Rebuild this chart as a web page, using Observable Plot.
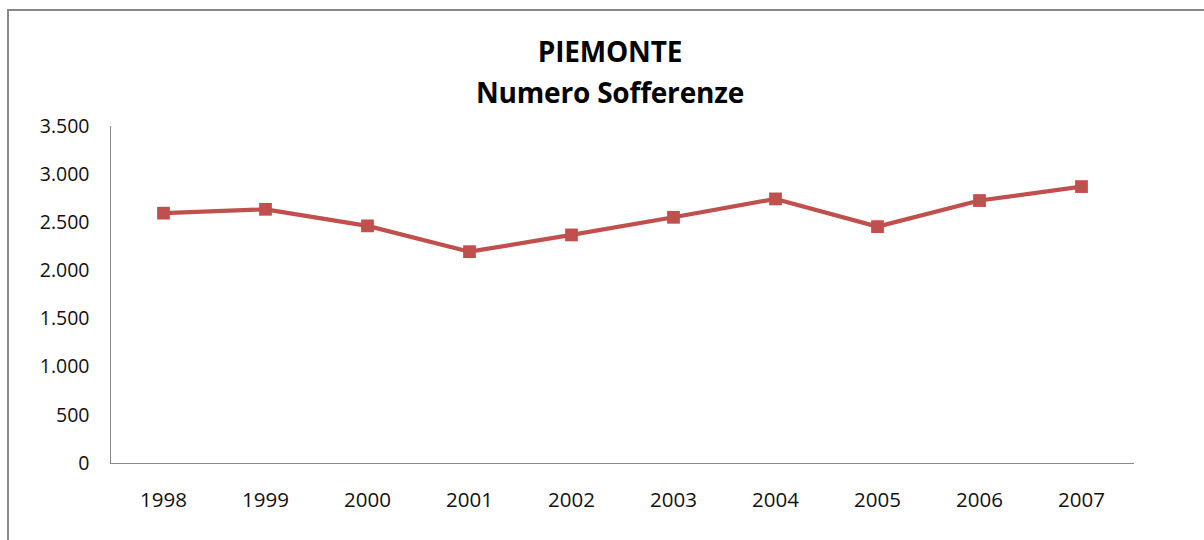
<!DOCTYPE html>
<html><head><meta charset="utf-8">
<script src="https://cdn.jsdelivr.net/npm/d3@7"></script>
<script src="https://cdn.jsdelivr.net/npm/@observablehq/plot@0.6"></script>
<style>
body{margin:0;background:#fff;overflow:hidden;width:1204px;height:540px;position:relative;font-family:"Open Sans","Noto Sans",sans-serif;}
#frame{position:absolute;left:7px;top:9px;width:1400px;height:800px;border-left:2px solid #888;border-top:2px solid #888;}
#title{position:absolute;left:0;top:31px;width:1220px;text-align:center;font-weight:bold;font-size:28px;line-height:41px;color:#000;letter-spacing:-0.2px;}
#chart{position:absolute;left:0;top:100px;}
</style></head><body>
<div id="frame"></div>
<div id="title">PIEMONTE<br>Numero Sofferenze</div>
<div id="chart"></div>
<script>
const years = ["1998","1999","2000","2001","2002","2003","2004","2005","2006","2007"];
const values = [2600, 2640, 2468, 2200, 2374, 2557, 2748, 2460, 2731, 2876];
const yTicks = [0, 500, 1000, 1500, 2000, 2500, 3000, 3500];

const data = years.map((y, i) => ({year: y, value: values[i]}));
const fmt = d => d3.format(",")(d).replace(/,/g, ".");

const plot = Plot.plot({
  width: 1204,
  height: 440,
  marginTop: 26,
  marginBottom: 77,
  marginLeft: 110,
  marginRight: 71,
  style: {fontFamily: "'Open Sans', 'Noto Sans', sans-serif", fontSize: "19px", color: "#111", background: "transparent"},
  x: {type: "point", domain: years, padding: 0.5, label: null},
  y: {domain: [0, 3500], label: null},
  marks: [
    Plot.axisX({tickSize: 0, tickPadding: 29, fontSize: 20.5, label: null}),
    Plot.axisY(yTicks, {tickSize: 0, tickPadding: 21, tickFormat: fmt, fontSize: 19.5, label: null}),
    Plot.frame({anchor: "left", stroke: "#888"}),
    Plot.frame({anchor: "bottom", stroke: "#888"}),
    Plot.line(data, {x: "year", y: "value", stroke: "#C0504D", strokeWidth: 4.2}),
    Plot.dot(data, {x: "year", y: "value", symbol: "square", r: 7.2, fill: "#C0504D"})
  ]
});
document.getElementById("chart").appendChild(plot);
</script>
</body></html>
